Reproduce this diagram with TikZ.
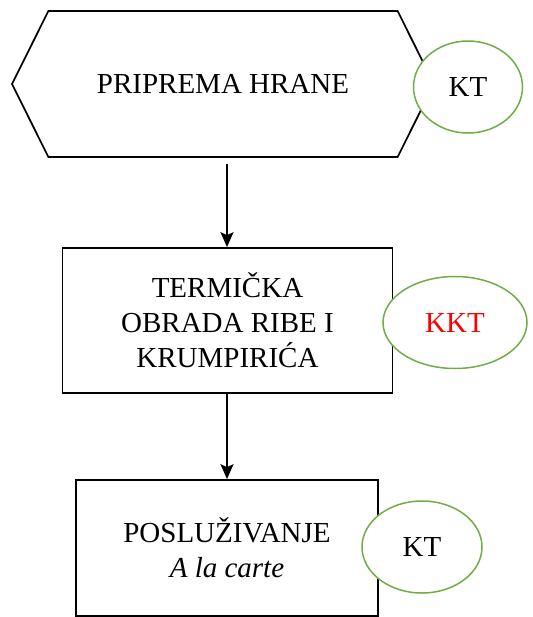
\documentclass[tikz,border=0pt]{standalone}
\usepackage{fontspec}
\setmainfont{Liberation Serif}
\usepackage{tikz}
\usetikzlibrary{arrows.meta,shapes.geometric,shapes.symbols}
\definecolor{ktgreen}{RGB}{112,173,71}
\definecolor{kktred}{RGB}{255,0,0}

\begin{document}
\begin{tikzpicture}[x=0.5pt,y=-0.5pt,>={Stealth[length=7.5pt,width=6.5pt,inset=1.5pt]},line width=0.85pt,
    font=\fontsize{14.5pt}{17.5pt}\selectfont,
    korak/.style={draw,rectangle,align=center,inner sep=0pt},
    tacka/.style={draw=ktgreen,ellipse,fill=white,inner sep=0pt,line width=0.75pt,minimum height=46pt}]
  \useasboundingbox (0,0) rectangle (532,617);
  \node[draw,signal,signal to=west and east,signal pointer angle=127,inner sep=0pt,
        minimum width=211pt,minimum height=73pt] (hrana) at (223,84) {PRIPREMA HRANE};
  \node[korak,minimum width=165pt,minimum height=72.5pt] (obrada) at (227.5,320.5)
        {TERMIČKA\\OBRADA RIBE I\\KRUMPIRIĆA};
  \node[korak,minimum width=151pt,minimum height=68pt] (posl) at (227,548)
        {POSLUŽIVANJE\\\textit{A la carte}};

  \node[tacka,minimum width=54.5pt] (kt1) at (468,87) {KT};
  \node[tacka,minimum width=72pt,text=kktred] (kkt) at (455,322.5) {KKT};
  \node[tacka,minimum width=60pt] (kt2) at (422,547) {KT};

  \path[->] (hrana.south -| posl.north) edge [shorten <=3pt] (posl.north |- obrada.north)
        (posl.north |- obrada.south) edge (posl.north);
\end{tikzpicture}
\end{document}
